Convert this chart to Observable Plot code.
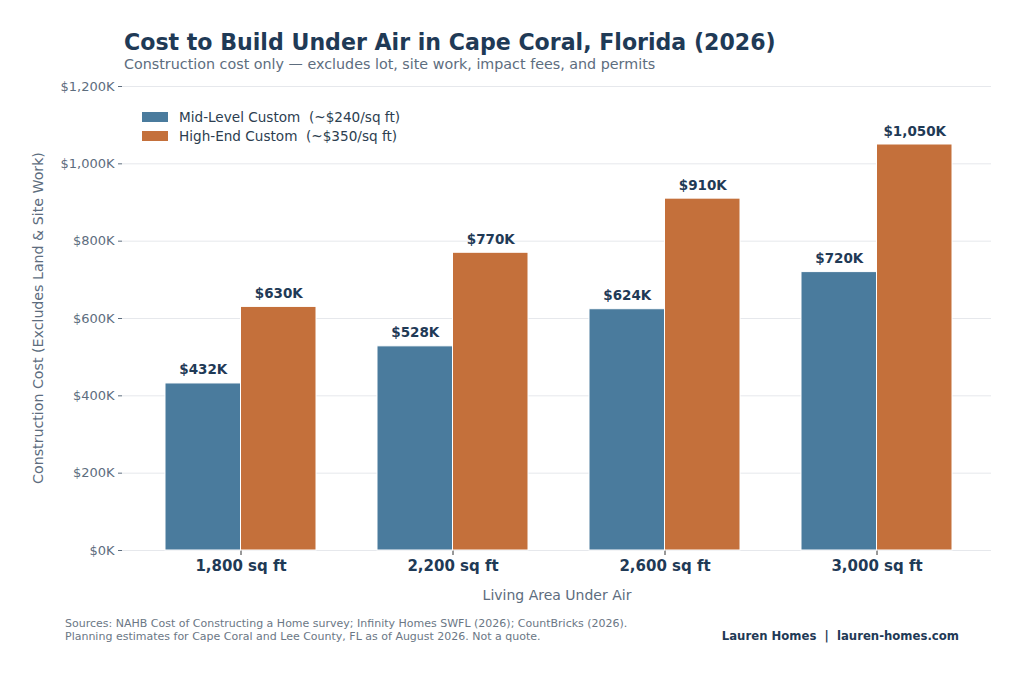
<!DOCTYPE html>
<html>
<head>
<meta charset="utf-8">
<script src="https://cdn.jsdelivr.net/npm/d3@7"></script>
<script src="https://cdn.jsdelivr.net/npm/@observablehq/plot@0.6"></script>
<style>
  html, body { margin: 0; padding: 0; background: #fff; }
  body { width: 1024px; height: 676px; position: relative; overflow: hidden; font-family: "DejaVu Sans", sans-serif; }
  .abs { position: absolute; white-space: nowrap; }
  #title { left: 124px; top: 29px; font-size: 22.1px; font-weight: bold; color: #1f3a56; }
  #subtitle { left: 124px; top: 56px; font-size: 14.3px; color: #5d6d7e; }
  #chart { position: absolute; left: 0; top: 72px; }
  #legend { left: 142px; top: 107px; font-size: 13.6px; color: #2c3e50; }
  #legend .row { display: flex; align-items: center; height: 19.5px; }
  #legend .sw { width: 26px; height: 10px; margin-right: 11px; }
  #ylabel { left: 38px; top: 318px; transform: translate(-50%, -50%) rotate(-90deg); font-size: 14.2px; color: #5d6d7e; }
  #xlabel { left: 557px; top: 595px; transform: translate(-50%, -50%); font-size: 14px; color: #5d6d7e; }
  #sources { left: 65px; top: 617px; font-size: 11px; line-height: 13px; color: #6b7785; }
  #brand { right: 65px; top: 629px; font-size: 11.7px; font-weight: bold; color: #1f3a56; }
</style>
</head>
<body>
<div id="title" class="abs">Cost to Build Under Air in Cape Coral, Florida (2026)</div>
<div id="subtitle" class="abs">Construction cost only — excludes lot, site work, impact fees, and permits</div>
<div id="chart"></div>
<div id="legend" class="abs"></div>
<div id="ylabel" class="abs">Construction Cost (Excludes Land &amp; Site Work)</div>
<div id="xlabel" class="abs">Living Area Under Air</div>
<div id="sources" class="abs">Sources: NAHB Cost of Constructing a Home survey; Infinity Homes SWFL (2026); CountBricks (2026).<br>Planning estimates for Cape Coral and Lee County, FL as of August 2026. Not a quote.</div>
<div id="brand" class="abs">Lauren Homes&nbsp; |&nbsp; lauren-homes.com</div>
<script>
const sizes = ["1,800 sq ft", "2,200 sq ft", "2,600 sq ft", "3,000 sq ft"];
const series = ["Mid-Level Custom  (~$240/sq ft)", "High-End Custom  (~$350/sq ft)"];
const midLevel = [432, 528, 624, 720];
const highEnd = [630, 770, 910, 1050];
const yTicks = [0, 200, 400, 600, 800, 1000, 1200];
const colors = ["#4a7b9d", "#c4703b"];

const midRows = sizes.map((s, i) => ({size: s, series: series[0], value: midLevel[i]}));
const highRows = sizes.map((s, i) => ({size: s, series: series[1], value: highEnd[i]}));

const fmt = v => "$" + d3.format(",")(v) + "K";
const half = 75.5;

const labelOpts = {x: "size", y: "value", text: d => fmt(d.value), lineAnchor: "bottom", dy: -9, fontSize: 13.5, fontWeight: "bold", fill: "#1f3a56"};

const plot = Plot.plot({
  width: 1024,
  height: 538,
  marginLeft: 122,
  marginRight: 33,
  marginTop: 14,
  marginBottom: 60,
  style: {fontFamily: "DejaVu Sans, sans-serif", background: "transparent"},
  x: {domain: sizes, paddingInner: 0.288, paddingOuter: 0.1935, align: 0.52, label: null},
  y: {domain: [0, 1200], label: null},
  color: {domain: series, range: colors},
  marks: [
    Plot.gridY(yTicks, {stroke: "#e6e8ec", strokeOpacity: 1, strokeWidth: 1}),
    Plot.axisY({ticks: yTicks, tickFormat: fmt, tickSize: 4, tickPadding: 4, fontSize: 13, fill: "#5d6d7e", stroke: "#5d6d7e", label: null}),
    Plot.axisX({tickSize: 5, tickPadding: 5, fontSize: 15, fontWeight: "bold", fill: "#1f3a56", stroke: "#333", label: null}),
    Plot.barY(midRows, {x: "size", y: "value", fill: "series", stroke: "white", strokeWidth: 1, insetRight: half}),
    Plot.barY(highRows, {x: "size", y: "value", fill: "series", stroke: "white", strokeWidth: 1, insetLeft: half}),
    Plot.text(midRows, {...labelOpts, dx: -half / 2}),
    Plot.text(highRows, {...labelOpts, dx: half / 2})
  ]
});
document.getElementById("chart").appendChild(plot);

const legend = document.getElementById("legend");
series.forEach((s, i) => {
  const row = document.createElement("div");
  row.className = "row";
  const sw = document.createElement("div");
  sw.className = "sw";
  sw.style.background = colors[i];
  const lab = document.createElement("span");
  lab.textContent = s;
  lab.style.whiteSpace = "pre";
  row.appendChild(sw);
  row.appendChild(lab);
  legend.appendChild(row);
});
</script>
</body>
</html>
